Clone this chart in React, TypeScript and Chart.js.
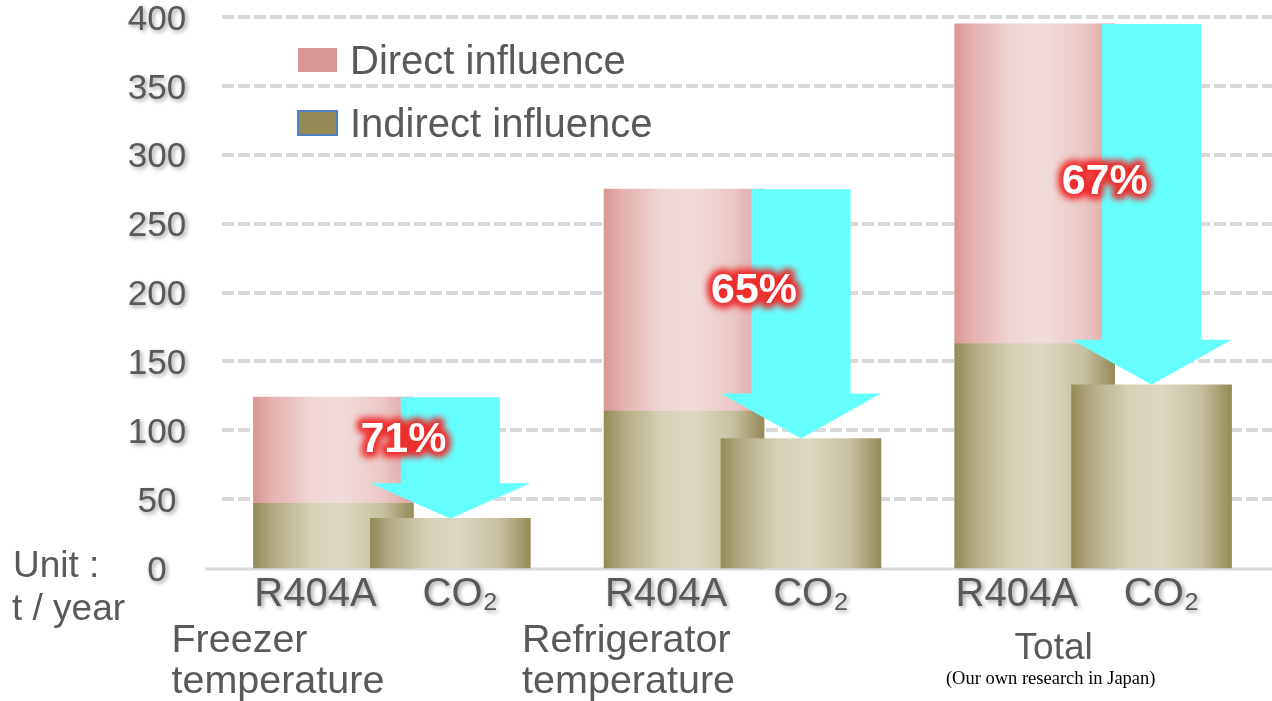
import React, { useEffect, useRef } from "react";
import { Chart, registerables } from "chart.js";

Chart.register(...registerables);

// ---------- data ----------
const groupNames: string[][] = [["Freezer", "temperature"], ["Refrigerator", "temperature"], ["Total"]];
const refrigerants = ["R404A", "CO₂"];
const r404aIndirect = [47, 114, 163];
const r404aDirect = [77, 161, 232];
const co2Indirect = [36, 94, 133];
const reductionLabels = ["71%", "65%", "67%"];
const seriesNames = ["Direct influence", "Indirect influence"];
const unitLabel = ["Unit :", "t / year"];
const sourceNote = "(Our own research in Japan)";
const yMin = 0;
const yMax = 400;
const yStep = 50;

// ---------- slot table built from data ----------
const slotLabels: string[] = [];
const indirectSlots: (number | null)[] = [];
const directSlots: (number | null)[] = [];
const r404Slot: number[] = [];
const co2Slot: number[] = [];
groupNames.forEach((_, g) => {
  r404Slot.push(slotLabels.length);
  slotLabels.push(refrigerants[0]);
  indirectSlots.push(r404aIndirect[g]);
  directSlots.push(r404aDirect[g]);
  co2Slot.push(slotLabels.length);
  slotLabels.push(refrigerants[1]);
  indirectSlots.push(co2Indirect[g]);
  directSlots.push(null);
  if (g < groupNames.length - 1) {
    slotLabels.push("");
    indirectSlots.push(null);
    directSlots.push(null);
  }
});

const FONT = '"Liberation Sans", Arial, Helvetica, sans-serif';
const TEXT = "#595959";
const BAR_W = 160;

const oliveStops: [number, string][] = [
  [0, "#948a54"], [0.12, "#b2aa83"], [0.35, "#d5d0b6"], [0.55, "#ddd8c3"], [0.8, "#c8c2a4"], [1, "#958b56"],
];
const pinkStops: [number, string][] = [
  [0, "#d99694"], [0.12, "#e3b2b0"], [0.35, "#efd5d4"], [0.55, "#f0dcdb"], [0.8, "#ebc9c8"], [1, "#dca2a0"],
];

const barGradient = (stops: [number, string][]) => (ctx: any) => {
  const chart = ctx.chart;
  const xs = chart.scales && chart.scales.x;
  if (!chart.chartArea || !xs) return stops[3][1];
  const x = xs.getPixelForValue(ctx.dataIndex);
  const g = chart.ctx.createLinearGradient(x - BAR_W / 2, 0, x + BAR_W / 2, 0);
  stops.forEach(([o, c]) => g.addColorStop(o, c));
  return g;
};

const shadowOn = (c: CanvasRenderingContext2D) => {
  c.shadowColor = "rgba(0,0,0,0.38)";
  c.shadowBlur = 4;
  c.shadowOffsetX = 2;
  c.shadowOffsetY = 2;
};
const shadowOff = (c: CanvasRenderingContext2D) => {
  c.shadowColor = "rgba(0,0,0,0)";
  c.shadowBlur = 0;
  c.shadowOffsetX = 0;
  c.shadowOffsetY = 0;
};

const decorPlugin = {
  id: "decor",
  beforeDatasetsDraw(chart: any) {
    const c: CanvasRenderingContext2D = chart.ctx;
    const y = chart.scales.y;
    c.save();
    c.strokeStyle = "#d9d9d9";
    c.lineWidth = 4;
    c.setLineDash([12, 4]);
    y.ticks.forEach((t: any) => {
      if (t.value === yMin) return;
      const py = Math.round(y.getPixelForValue(t.value));
      c.beginPath();
      c.moveTo(222, py);
      c.lineTo(chart.width, py);
      c.stroke();
    });
    c.setLineDash([]);
    c.lineWidth = 3;
    const by = Math.round(y.getPixelForValue(yMin)) + 1;
    c.beginPath();
    c.moveTo(205, by);
    c.lineTo(chart.width, by);
    c.stroke();
    c.restore();
  },
  afterDatasetsDraw(chart: any) {
    const c: CanvasRenderingContext2D = chart.ctx;
    const ind = chart.getDatasetMeta(0).data;
    const dir = chart.getDatasetMeta(1).data;
    groupNames.forEach((_, g) => {
      const top = dir[r404Slot[g]];
      const co2 = ind[co2Slot[g]];
      const topY = top.y;
      const tipY = co2.y;
      const cx = co2.x;
      const w = co2.width;
      const sw = w * 0.62;
      const headH = Math.min(45, (tipY - topY) * 0.29);
      const baseY = tipY - headH;
      c.save();
      c.fillStyle = "#66ffff";
      c.beginPath();
      c.moveTo(cx - sw / 2, topY);
      c.lineTo(cx + sw / 2, topY);
      c.lineTo(cx + sw / 2, baseY);
      c.lineTo(cx + w / 2, baseY);
      c.lineTo(cx, tipY);
      c.lineTo(cx - w / 2, baseY);
      c.lineTo(cx - sw / 2, baseY);
      c.closePath();
      c.fill();
      c.restore();

      // reduction label with red glow
      const lx = top.x + top.width / 2 - 10;
      const ly = (topY + baseY) / 2;
      c.save();
      c.font = `bold 43px ${FONT}`;
      c.textAlign = "center";
      c.textBaseline = "middle";
      c.lineJoin = "round";
      (c as any).filter = "blur(3px)";
      c.strokeStyle = "rgba(238,45,45,1)";
      c.lineWidth = 11;
      c.strokeText(reductionLabels[g], lx, ly);
      (c as any).filter = "none";
      c.fillStyle = "#ffffff";
      c.fillText(reductionLabels[g], lx, ly);
      c.restore();
    });
  },
  afterDraw(chart: any) {
    const c: CanvasRenderingContext2D = chart.ctx;
    const y = chart.scales.y;
    const x = chart.scales.x;
    c.save();
    c.fillStyle = TEXT;
    c.textBaseline = "middle";

    // y tick labels
    shadowOn(c);
    c.font = `35px ${FONT}`;
    c.textAlign = "center";
    y.ticks.forEach((t: any) => {
      c.fillText(String(t.value), 157, y.getPixelForValue(t.value) + 3);
    });

    // x labels
    c.font = `40px ${FONT}`;
    groupNames.forEach((_, g) => {
      const rx = x.getPixelForValue(r404Slot[g]);
      const cx = x.getPixelForValue(co2Slot[g]);
      c.fillText(slotLabels[r404Slot[g]], rx - 18, 595);
      c.fillText(slotLabels[co2Slot[g]], cx + 10, 595);
    });
    shadowOff(c);

    // group labels
    groupNames.forEach((lines, g) => {
      const rx = x.getPixelForValue(r404Slot[g]);
      if (lines.length > 1) {
        c.textAlign = "left";
        c.font = `39.5px ${FONT}`;
        lines.forEach((ln, i) => c.fillText(ln, rx - 162, 641 + i * 41));
      } else {
        c.textAlign = "center";
        c.font = `37px ${FONT}`;
        c.fillText(lines[0], rx + 19, 649);
        c.font = `18.5px "Liberation Serif", "Times New Roman", serif`;
        c.fillStyle = "#000000";
        c.fillText(sourceNote, rx + 16, 679);
        c.fillStyle = TEXT;
      }
    });

    // unit label
    c.textAlign = "left";
    c.font = `37px ${FONT}`;
    c.fillText(unitLabel[0], 13, 567);
    c.fillText(unitLabel[1], 12, 610);

    // legend
    const ds = chart.data.datasets;
    const legendItems = [
      { label: ds[1].label, fill: "#d99694", stroke: null as string | null, y: 62 },
      { label: ds[0].label, fill: "#948a54", stroke: "#4f81bd", y: 125 },
    ];
    c.font = `40px ${FONT}`;
    legendItems.forEach((it) => {
      c.fillStyle = it.fill;
      c.fillRect(298, it.y - 14, 39, 24);
      if (it.stroke) {
        c.strokeStyle = it.stroke;
        c.lineWidth = 2;
        c.strokeRect(298, it.y - 14, 39, 24);
      }
      c.fillStyle = TEXT;
      c.fillText(it.label, 350, it.y + 1);
    });
    c.restore();
  },
};

export default function App() {
  const ref = useRef<HTMLCanvasElement | null>(null);
  useEffect(() => {
    document.body.style.margin = "0";
    const canvas = ref.current;
    if (!canvas) return;
    const chart = new Chart(canvas, {
      type: "bar",
      data: {
        labels: slotLabels,
        datasets: [
          {
            label: seriesNames[1],
            data: indirectSlots,
            backgroundColor: barGradient(oliveStops),
            borderWidth: 0,
            barThickness: BAR_W,
            clip: false,
          } as any,
          {
            label: seriesNames[0],
            data: directSlots,
            backgroundColor: barGradient(pinkStops),
            borderWidth: 0,
            barThickness: BAR_W,
            clip: false,
          } as any,
        ],
      },
      options: {
        responsive: false,
        animation: false,
        events: [],
        layout: { padding: { top: 17, right: 62, left: 0, bottom: 0 } },
        plugins: { legend: { display: false }, tooltip: { enabled: false } },
        scales: {
          x: {
            stacked: true,
            grid: { display: false },
            border: { display: false },
            ticks: { display: false },
            afterFit: (s: any) => {
              s.height = 133;
            },
          },
          y: {
            stacked: true,
            min: yMin,
            max: yMax,
            ticks: { display: false, stepSize: yStep },
            grid: { display: false },
            border: { display: false },
            afterFit: (s: any) => {
              s.width = 275;
            },
          },
        },
      } as any,
      plugins: [decorPlugin],
    });
    return () => chart.destroy();
  }, []);
  return (
    <div style={{ position: "fixed", left: 0, top: 0, width: 1272, height: 701, background: "#fff" }}>
      <canvas ref={ref} width={1272} height={701} style={{ display: "block" }} />
    </div>
  );
}
